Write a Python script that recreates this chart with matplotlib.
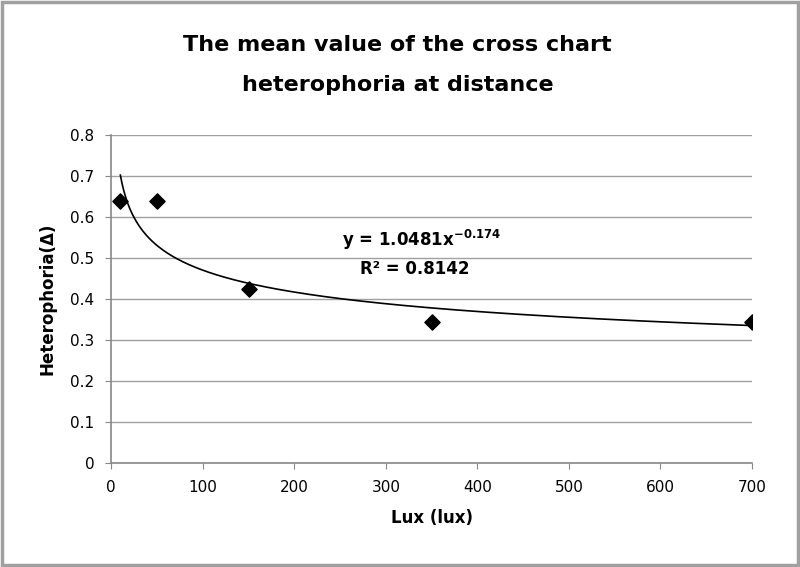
import numpy as np
import matplotlib.pyplot as plt
from matplotlib.patches import Rectangle

# Data
lux = [10, 50, 150, 350, 700]
heterophoria = [0.64, 0.64, 0.425, 0.345, 0.345]

# Power trendline shown on the chart: y = a * x^b
fit_a = 1.0481
fit_b = -0.174
r_squared = 0.8142

x_ticks = [0, 100, 200, 300, 400, 500, 600, 700]
y_ticks = [0, 0.1, 0.2, 0.3, 0.4, 0.5, 0.6, 0.7, 0.8]
y_tick_labels = ["0", "0.1", "0.2", "0.3", "0.4", "0.5", "0.6", "0.7", "0.8"]

plt.rcParams['font.family'] = ['DejaVu Sans']

fig = plt.figure(figsize=(8, 5.67), dpi=100)
ax = fig.add_axes([0.139, 0.1834, 0.801, 0.5785])

# Trendline over the data range
xs = np.linspace(min(lux), max(lux), 400)
ax.plot(xs, fit_a * xs ** fit_b, color="black", lw=1.2, zorder=3)

ax.scatter(lux, heterophoria, marker="D", s=60, color="black", zorder=4)

ax.set_xlim(0, 700)
ax.set_ylim(0, 0.8)
ax.set_xticks(x_ticks)
ax.set_yticks(y_ticks)
ax.set_yticklabels(y_tick_labels)
ax.grid(axis="y", color="#a0a0a0", lw=1)
ax.set_axisbelow(True)
for side in ["top", "right"]:
    ax.spines[side].set_visible(False)
for side in ["left", "bottom"]:
    ax.spines[side].set_color("#888888")
    ax.spines[side].set_linewidth(1.2)
ax.tick_params(axis="both", colors="#888888", length=4, labelcolor="black",
               labelsize=11, pad=8)

ax.set_xlabel("Lux (lux)", fontsize=12, fontweight="bold", labelpad=10)
ax.set_ylabel("Heterophoria(Δ)", fontsize=12, fontweight="bold", labelpad=10)

ax.text(0.484, 0.68, "y = {}x$^{{\\mathbf{{{}}}}}$".format(fit_a, fit_b), transform=ax.transAxes,
        fontsize=12, fontweight="bold", ha="center", va="center")
ax.text(0.474, 0.593, "R² = {}".format(r_squared), transform=ax.transAxes,
        fontsize=12, fontweight="bold", ha="center", va="center")

fig.text(0.497, 0.92, "The mean value of the cross chart", fontsize=16,
         fontweight="bold", ha="center", va="center")
fig.text(0.497, 0.85, "heterophoria at distance", fontsize=16,
         fontweight="bold", ha="center", va="center")

# Chart border
fig.patches.append(Rectangle((0.002, 0.003), 0.996, 0.994, transform=fig.transFigure,
                             fill=False, edgecolor="#a0a0a0", lw=2.5))

fig.savefig("out.png", dpi=100)
